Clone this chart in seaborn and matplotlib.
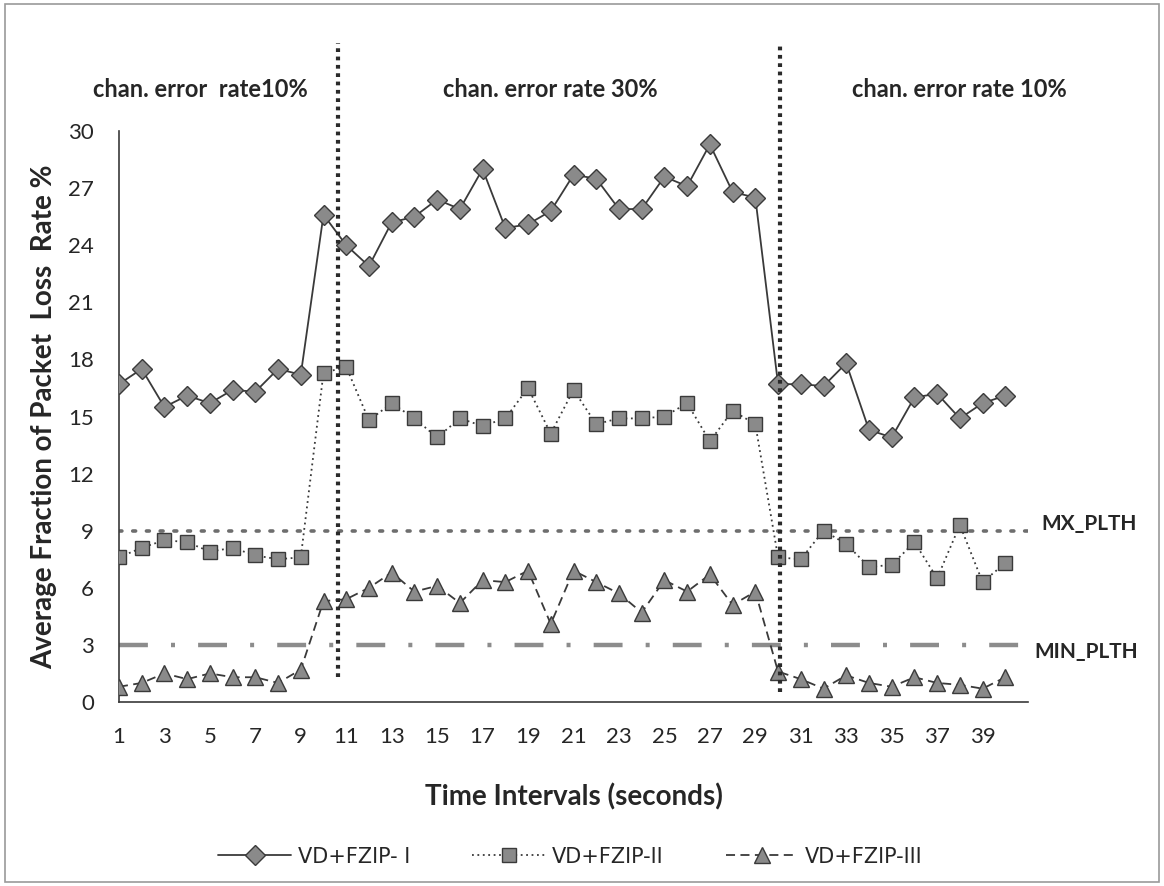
import numpy as np
import pandas as pd
import matplotlib.pyplot as plt
import seaborn as sns
from matplotlib.lines import Line2D
from matplotlib.patches import Rectangle

# time intervals (seconds)
intervals = list(range(1, 41))

# VD+FZIP- I (diamonds, solid)
fzip_1 = [16.7, 17.5, 15.5, 16.1, 15.7, 16.4, 16.3, 17.5, 17.2, 25.6,
          24.0, 22.9, 25.2, 25.5, 26.4, 25.9, 28.0, 24.9, 25.1, 25.8,
          27.7, 27.5, 25.9, 25.9, 27.6, 27.1, 29.3, 26.8, 26.5, 16.7,
          16.7, 16.6, 17.8, 14.3, 13.9, 16.0, 16.2, 14.9, 15.7, 16.1]

# VD+FZIP-II (squares, dotted)
fzip_2 = [7.6, 8.1, 8.5, 8.4, 7.9, 8.1, 7.7, 7.5, 7.6, 17.3,
          17.6, 14.8, 15.7, 14.9, 13.9, 14.9, 14.5, 14.9, 16.5, 14.1,
          16.4, 14.6, 14.9, 14.9, 15.0, 15.7, 13.7, 15.3, 14.6, 7.6,
          7.5, 9.0, 8.3, 7.1, 7.2, 8.4, 6.5, 9.3, 6.3, 7.3]

# VD+FZIP-III (triangles, dashed)
fzip_3 = [0.8, 1.0, 1.5, 1.2, 1.5, 1.3, 1.3, 1.0, 1.7, 5.3,
          5.4, 6.0, 6.8, 5.8, 6.1, 5.2, 6.4, 6.3, 6.9, 4.1,
          6.9, 6.3, 5.7, 4.7, 6.4, 5.8, 6.7, 5.1, 5.8, 1.6,
          1.2, 0.7, 1.4, 1.0, 0.8, 1.3, 1.0, 0.9, 0.7, 1.3]

series_names = ["VD+FZIP- I", "VD+FZIP-II", "VD+FZIP-III"]

# thresholds and channel phase boundaries
mx_plth = 9
min_plth = 3
phase_bounds = [10.65, 30.1]
phase_labels = ["chan. error  rate10%", "chan. error rate 30%", "chan. error rate 10%"]
phase_label_x = [4.6, 20.0, 38.0]

df = pd.DataFrame({"interval": intervals * 3,
                   "rate": fzip_1 + fzip_2 + fzip_3,
                   "series": np.repeat(series_names, len(intervals))})

sns.set_theme(style="white")
plt.rcParams['font.family'] = ['Lato', 'DejaVu Sans']

fig = plt.figure(figsize=(11.64, 8.86), dpi=100)
ax = fig.add_axes([0.1022, 0.2077, 0.781, 0.6444])

dark = "#3a3a3a"
fill = "#8a8a8a"
markers = {"VD+FZIP- I": "D", "VD+FZIP-II": "s", "VD+FZIP-III": "^"}
dashes = {"VD+FZIP- I": "", "VD+FZIP-II": (1, 2), "VD+FZIP-III": (5, 3)}
msizes = [10, 10.5, 11]

sns.lineplot(data=df, x="interval", y="rate", hue="series", style="series",
             palette=[dark, dark, dark], markers=markers, dashes=dashes,
             markersize=10, linewidth=1.3, ax=ax, legend=False, zorder=3)
for ln, ms in zip(ax.lines, msizes):
    ln.set_markerfacecolor(fill)
    ln.set_markeredgecolor(dark)
    ln.set_markeredgewidth(1.0)
    ln.set_markersize(ms)

# threshold lines
ax.plot([1, 41], [mx_plth, mx_plth], color="#6e6e6e", lw=2.6,
        linestyle=(0, (0.8, 3.0)), dash_capstyle="round", zorder=2)
ax.plot([1, 41], [min_plth, min_plth], color="#8c8c8c", lw=3.2,
        linestyle=(0, (6.5, 5.2, 0.9, 5.2)), zorder=2)
ax.text(41.6, mx_plth + 0.35, "MX_PLTH", fontsize=15, fontweight="bold", va="center")
ax.text(41.3, min_plth - 0.35, "MIN_PLTH", fontsize=15, fontweight="bold", va="center")

# phase boundaries
ax.plot([phase_bounds[0]] * 2, [1.3, 34.6], color="#2a2a2a", lw=3,
        linestyle=(0, (0.9, 1.1)), clip_on=False, zorder=4)
ax.plot([phase_bounds[1]] * 2, [0.5, 34.6], color="#2a2a2a", lw=3,
        linestyle=(0, (0.9, 1.1)), clip_on=False, zorder=4)
for xt, lbl in zip(phase_label_x, phase_labels):
    ax.text(xt, 32.2, lbl, fontsize=17, fontweight="bold", ha="center", va="center",
            clip_on=False)

ax.set_xlim(1, 41)
ax.set_ylim(0, 30)
ax.set_xticks(range(1, 41, 2))
ax.set_xticks(range(1, 42), minor=True)
ax.set_yticks(range(0, 31, 3))
ax.set_yticks(range(0, 31), minor=True)
ax.tick_params(axis="both", which="major", labelsize=16, color=dark, length=6, width=1)
ax.tick_params(axis="x", which="both", direction="inout", length=8, pad=14)
ax.tick_params(axis="y", which="minor", length=3, color=dark, direction="out")
ax.tick_params(axis="y", which="major", direction="out", length=6, pad=12)

for side in ["top", "right"]:
    ax.spines[side].set_visible(False)
for side in ["left", "bottom"]:
    ax.spines[side].set_color(dark)
    ax.spines[side].set_linewidth(1.2)

ax.set_xlabel("Time Intervals (seconds)", fontsize=20, fontweight="bold", labelpad=26)
ax.set_ylabel("Average Fraction of Packet  Loss  Rate %", fontsize=20,
              fontweight="bold", labelpad=8)

# legend below the axis
handles = []
for name, ms in zip(series_names, msizes):
    dash = dashes[name]
    ls = "-" if dash == "" else (0, dash)
    handles.append(Line2D([], [], color=dark, lw=1.3, linestyle=ls,
                          marker=markers[name], markersize=ms,
                          markerfacecolor=fill, markeredgecolor=dark))
fig.legend(handles, series_names, loc="center", bbox_to_anchor=(0.49, 0.033),
           ncol=3, frameon=False, handlelength=3.5, columnspacing=3.0,
           handletextpad=0.3,
           prop={"family": ["Liberation Sans Narrow", "DejaVu Sans"], "size": 15})

# chart frame
fig.patches.append(Rectangle((0.004, 0.004), 0.992, 0.992, transform=fig.transFigure,
                             fill=False, edgecolor="#9a9a9a", lw=1.2))

fig.savefig("out.png", dpi=100)
